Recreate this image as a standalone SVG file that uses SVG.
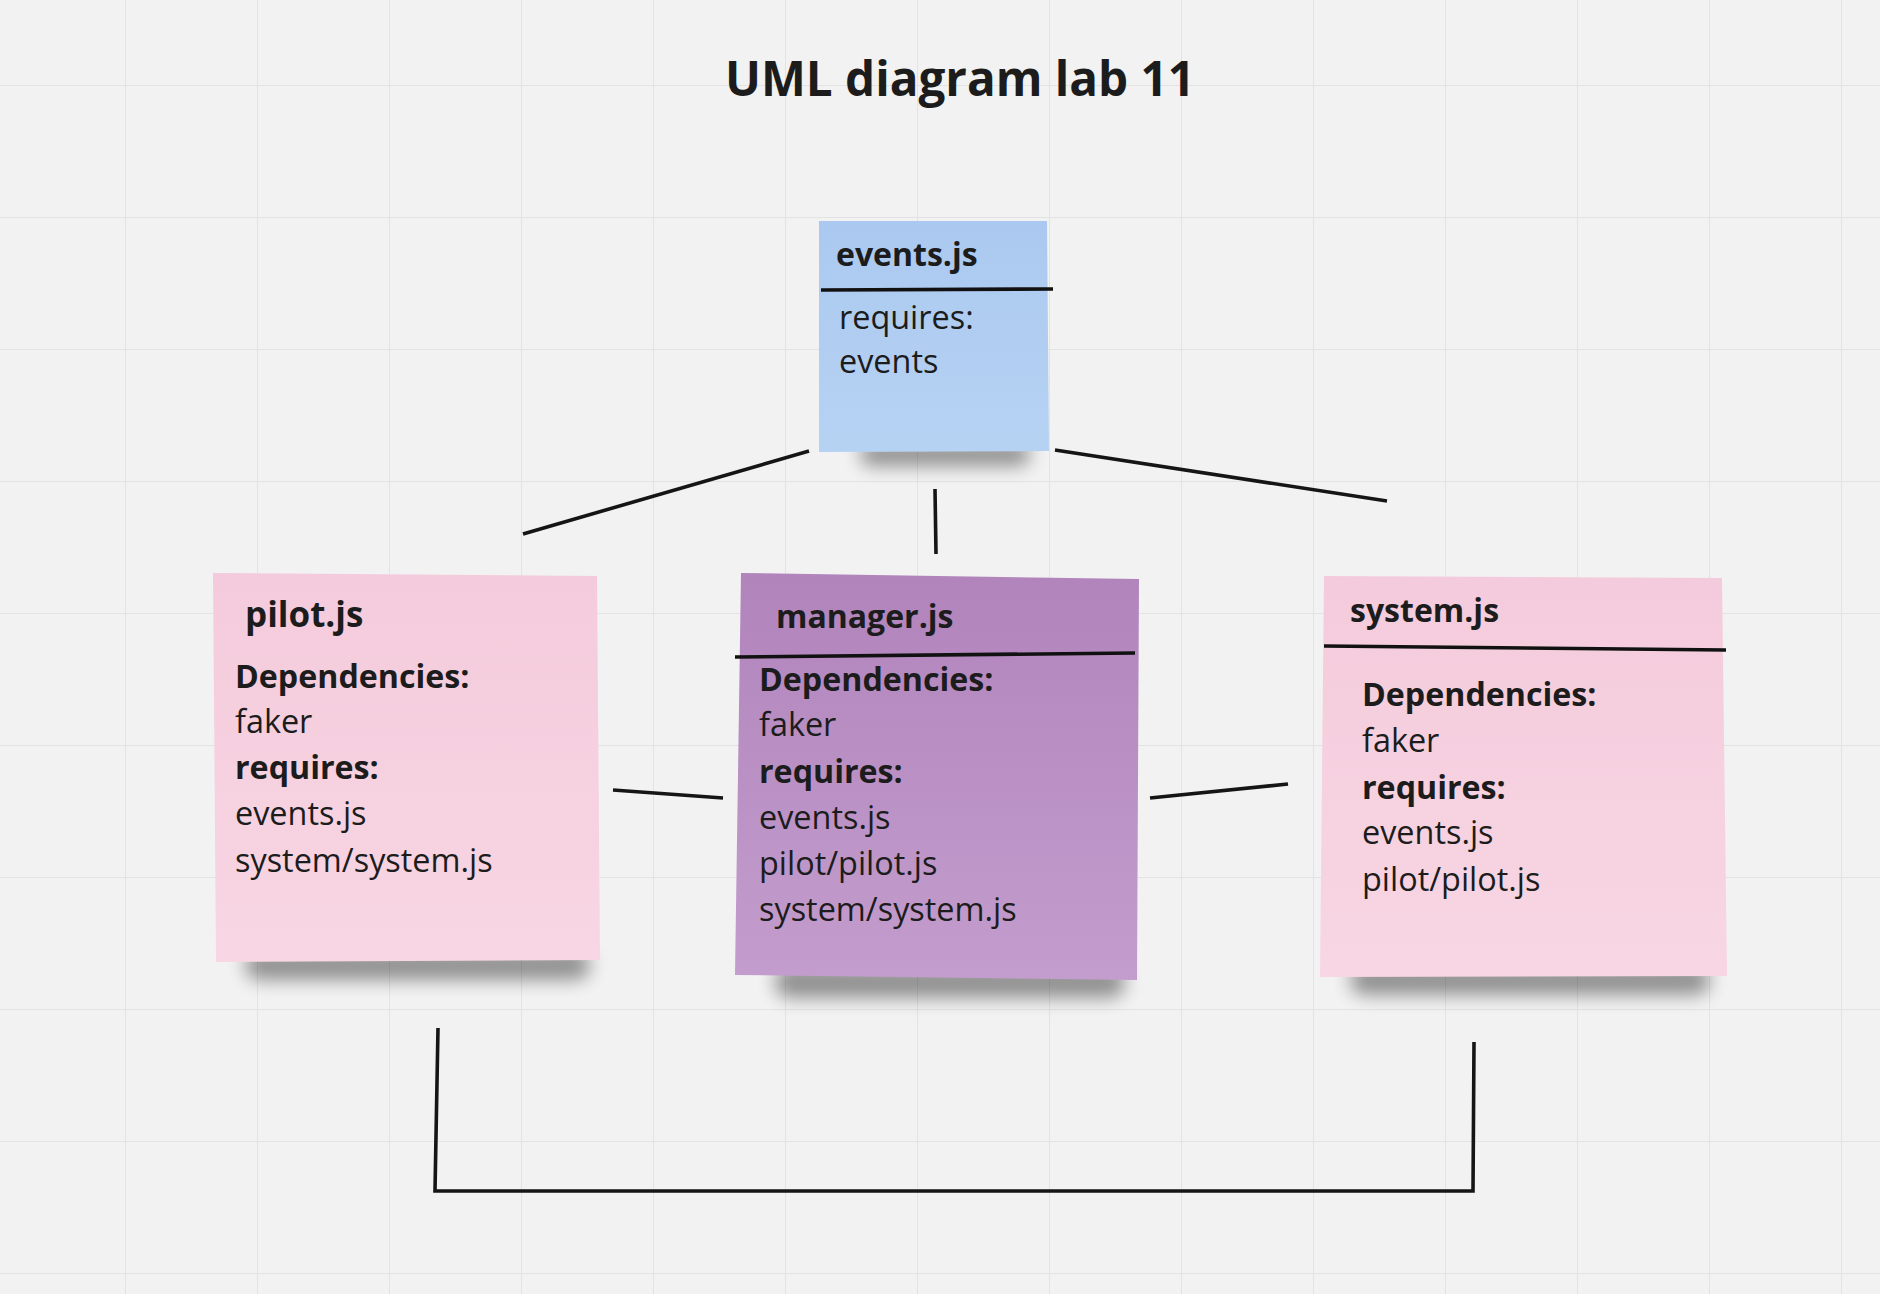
<svg xmlns="http://www.w3.org/2000/svg" width="1880" height="1294" viewBox="0 0 1880 1294">
<defs>
<pattern id="grid" x="125" y="85" width="132" height="132" patternUnits="userSpaceOnUse">
<path d="M0 0 H132 M0 0 V132" fill="none" stroke="#e3e3e3" stroke-width="2"/>
</pattern>
<filter id="blur" x="-30%" y="-150%" width="160%" height="400%"><feGaussianBlur stdDeviation="9"/></filter>
<linearGradient id="gBlue" x1="0" y1="0" x2="0" y2="1"><stop offset="0" stop-color="#abc9f0"/><stop offset="1" stop-color="#b6d2f3"/></linearGradient>
<linearGradient id="gPink" x1="0" y1="0" x2="0" y2="1"><stop offset="0" stop-color="#f4cbdc"/><stop offset="1" stop-color="#f8d6e3"/></linearGradient>
<linearGradient id="gPurple" x1="0" y1="0" x2="0" y2="1"><stop offset="0" stop-color="#b184bc"/><stop offset="1" stop-color="#c39dcd"/></linearGradient>
</defs>
<style>
text{font-family:"Open Sans","Noto Sans","Liberation Sans",sans-serif;fill:#1c1c1c;font-size:32.4px}
.b{font-weight:700;font-size:32.2px}
.h{font-weight:700;font-size:32px}
.title{font-weight:700;font-size:47.6px}
.sep{stroke:#111;stroke-width:3.6;fill:none}
.conn{stroke:#151515;stroke-width:3.6;fill:none}
.shadow{fill:#000;opacity:0.4;filter:url(#blur)}
</style>
<rect width="1880" height="1294" fill="#f2f2f2"/>
<rect width="1880" height="1294" fill="url(#grid)"/>
<text class="title" x="960" y="96" text-anchor="middle">UML diagram lab 11</text>

<g id="connectors">
<line class="conn" x1="523" y1="534" x2="809" y2="451"/>
<line class="conn" x1="935" y1="489" x2="936" y2="554"/>
<line class="conn" x1="1055" y1="450" x2="1387" y2="501"/>
<line class="conn" x1="613" y1="790" x2="723" y2="798"/>
<line class="conn" x1="1150" y1="798" x2="1288" y2="784"/>
<polyline class="conn" points="438,1028 435,1191 1473,1191 1474,1042"/>
</g>

<g id="events">
<rect class="shadow" x="860" y="442" width="170" height="24" rx="12"/>
<polygon points="819,221 1047,221 1049,451 819,452" fill="url(#gBlue)"/>
<text class="h" x="836" y="266">events.js</text>
<line class="sep" x1="821" y1="290" x2="1053" y2="289"/>
<text x="839" y="329">requires:</text>
<text x="839" y="373">events</text>
</g>

<g id="pilot">
<rect class="shadow" x="245" y="950" width="345" height="30" rx="15"/>
<polygon points="213,573 597,576 600,960 216,962" fill="url(#gPink)"/>
<text class="h" x="245" y="627" style="font-size:35px">pilot.js</text>
<text class="b" x="235" y="688">Dependencies:</text>
<text x="235" y="733">faker</text>
<text class="b" x="235" y="779">requires:</text>
<text x="235" y="825">events.js</text>
<text x="235" y="872">system/system.js</text>
</g>

<g id="manager">
<rect class="shadow" x="775" y="966" width="350" height="32" rx="15"/>
<polygon points="741,573 1139,579 1137,980 735,975" fill="url(#gPurple)"/>
<text class="h" x="776" y="628">manager.js</text>
<line class="sep" x1="735" y1="657" x2="1135" y2="653"/>
<text class="b" x="759" y="691">Dependencies:</text>
<text x="759" y="736">faker</text>
<text class="b" x="759" y="783">requires:</text>
<text x="759" y="829">events.js</text>
<text x="759" y="875">pilot/pilot.js</text>
<text x="759" y="921">system/system.js</text>
</g>

<g id="system">
<rect class="shadow" x="1350" y="965" width="360" height="30" rx="15"/>
<polygon points="1324,576 1722,578 1727,976 1320,977" fill="url(#gPink)"/>
<text class="h" x="1350" y="622">system.js</text>
<line class="sep" x1="1324" y1="646" x2="1726" y2="650"/>
<text class="b" x="1362" y="706">Dependencies:</text>
<text x="1362" y="752">faker</text>
<text class="b" x="1362" y="799">requires:</text>
<text x="1362" y="844">events.js</text>
<text x="1362" y="891">pilot/pilot.js</text>
</g>
</svg>
